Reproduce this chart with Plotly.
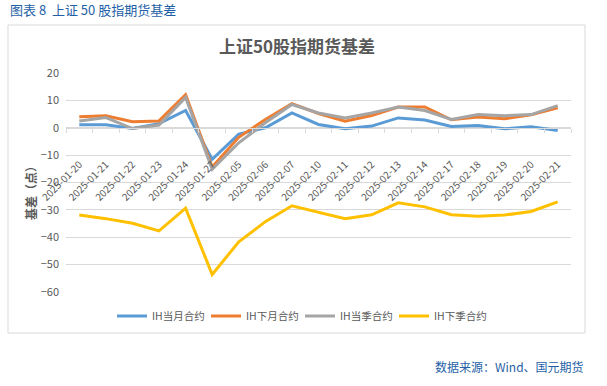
import plotly.graph_objects as go

dates = ["2025-01-20", "2025-01-21", "2025-01-22", "2025-01-23", "2025-01-24", "2025-01-27",
         "2025-02-05", "2025-02-06", "2025-02-07", "2025-02-10", "2025-02-11", "2025-02-12",
         "2025-02-13", "2025-02-14", "2025-02-17", "2025-02-18", "2025-02-19", "2025-02-20",
         "2025-02-21"]

ih_cur_month = [1.1, 1.1, -0.3, 1.5, 6.3, -11.5, -2.3, 0.0, 5.4, 1.2, -0.4, 0.6, 3.6, 2.8, 0.5, 0.8, -0.4, 0.4, -1.0]
ih_next_month = [4.0, 4.4, 2.2, 2.5, 12.1, -14.3, -3.5, 3.0, 8.8, 5.2, 2.4, 4.5, 7.6, 7.6, 2.9, 3.9, 3.3, 4.7, 7.3]
ih_cur_quarter = [2.5, 3.7, -0.3, 1.0, 11.1, -15.2, -5.5, 1.8, 8.5, 5.4, 3.6, 5.4, 7.6, 6.3, 3.0, 4.8, 4.4, 4.8, 8.1]
ih_next_quarter = [-31.9, -33.2, -34.9, -37.7, -29.4, -53.6, -41.7, -34.3, -28.5, -30.9, -33.2, -31.8, -27.4, -28.9, -31.8, -32.3, -31.9, -30.6, -27.1]

series_names = ["IH当月合约", "IH下月合约", "IH当季合约", "IH下季合约"]
series_colors = ["#5b9bd5", "#ed7d31", "#a5a5a5", "#ffc000"]
y_ticks = [20, 10, 0, -10, -20, -30, -40, -50, -60]

FONT = "Noto Sans CJK SC"
W, H = 607, 386
ML, MR, MT, MB = 66, 36, 73, 94
PW, PH = W - ML - MR, H - MT - MB

def px_x(p):
    return (p - ML) / PW

def px_y(p):
    return 1 - (p - MT) / PH

fig = go.Figure()
legend_ids = ["legend", "legend2", "legend3", "legend4"]
for name, vals, col, lg in zip(series_names, [ih_cur_month, ih_next_month, ih_cur_quarter, ih_next_quarter],
                               series_colors, legend_ids):
    fig.add_trace(go.Scatter(x=dates, y=vals, mode="lines", name=name, legend=lg,
                             line=dict(color=col, width=3)))

leg_common = dict(orientation="h", xanchor="left", y=px_y(316), yanchor="middle",
                  font=dict(size=10.5, color="#595959"), itemwidth=30,
                  bgcolor="rgba(0,0,0,0)")
legends = {lg: dict(x=px_x(112 + i * 94), **leg_common) for i, lg in enumerate(legend_ids)}

fig.update_layout(
    width=W, height=H,
    margin=dict(l=ML, r=MR, t=MT, b=MB),
    paper_bgcolor="white", plot_bgcolor="white",
    font=dict(family=FONT, color="#595959", size=11),
    showlegend=True,
    xaxis=dict(type="category", range=[-0.5, len(dates) - 0.5], anchor="free",
               position=60 / 80, showgrid=False, showline=True, linecolor="#d9d9d9",
               linewidth=1, ticks="outside", tickson="boundaries", ticklen=4,
               tickcolor="#d9d9d9", tickangle=-45, tickfont=dict(size=10, color="#595959"),
               ticklabelstandoff=26, zeroline=False, automargin=False),
    yaxis=dict(range=[-60, 20], tickvals=y_ticks, showgrid=True, gridcolor="#d9d9d9",
               gridwidth=1, zeroline=False, showline=False, ticks="",
               tickfont=dict(size=11, color="#595959"), ticklabelstandoff=6, automargin=False),
    **legends,
)

# chart frame
fig.add_shape(type="rect", xref="paper", yref="paper",
              x0=px_x(8), x1=px_x(585), y0=px_y(333), y1=px_y(25),
              line=dict(color="#d9d9d9", width=1), fillcolor="rgba(0,0,0,0)", layer="below")

fig.add_annotation(text="<b>上证50股指期货基差</b>", xref="paper", yref="paper",
                   x=px_x(297), y=px_y(45), xanchor="center", yanchor="middle",
                   showarrow=False, font=dict(size=17, color="#595959", family=FONT))
fig.add_annotation(text="图表 8  上证 50 股指期货基差", xref="paper", yref="paper",
                   x=px_x(8), y=px_y(10), xanchor="left", yanchor="middle",
                   showarrow=False, font=dict(size=13, color="#1f5fa6", family=FONT))
fig.add_annotation(text="<b>基差（点）</b>", xref="paper", yref="paper",
                   x=px_x(30), y=px_y(190), xanchor="center", yanchor="middle", textangle=-90,
                   showarrow=False, font=dict(size=12, color="#595959", family=FONT))
fig.add_annotation(text="数据来源：Wind、国元期货", xref="paper", yref="paper",
                   x=px_x(586), y=px_y(366), xanchor="right", yanchor="middle",
                   showarrow=False, font=dict(size=12, color="#1f5fa6", family=FONT))

fig.write_html("out.html", config={"displayModeBar": False},
               post_script="document.body.style.margin='0';document.body.style.overflow='hidden';")
